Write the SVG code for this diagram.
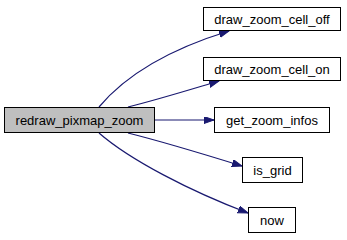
<svg xmlns="http://www.w3.org/2000/svg" width="347" height="240" viewBox="0 0 347 240">
  <style>
    .node rect { fill: #ffffff; stroke: #000000; stroke-width: 1; }
    .node.root rect { fill: #bfbfbf; }
    .node text { font-family: "Liberation Sans", Arial, sans-serif; font-size: 13px; fill: #000000; text-anchor: middle; }
    .edge { fill: none; stroke: #191970; stroke-width: 1.2; marker-end: url(#arrow); }
  </style>
  <defs>
    <marker id="arrow" markerUnits="userSpaceOnUse" markerWidth="11" markerHeight="8" refX="10" refY="3.5" orient="auto">
      <path d="M0,0 L10,3.5 L0,7 Z" fill="#191970" stroke="#191970" stroke-width="1"/>
    </marker>
  </defs>

  <!-- call edges -->
  <g id="edges">
    <path class="edge" d="M99,107 C130,70 180,46 229,31"/>
    <path class="edge" d="M128,107 C160,99 192,89 219,81"/>
    <path class="edge" d="M155,120 L214,120"/>
    <path class="edge" d="M128,133 C160,141 200,153 242,166"/>
    <path class="edge" d="M99,133 C130,160 190,191 248,213"/>
  </g>

  <g id="node_redraw_pixmap_zoom" class="node root">
    <rect x="4.5" y="107.5" width="150" height="25"/>
    <text x="79.5" y="124.5">redraw_pixmap_zoom</text>
  </g>
  <g id="node_draw_zoom_cell_off" class="node">
    <rect x="203.5" y="7.5" width="137" height="23"/>
    <text x="272" y="23.5">draw_zoom_cell_off</text>
  </g>
  <g id="node_draw_zoom_cell_on" class="node">
    <rect x="203.5" y="57.5" width="137" height="23"/>
    <text x="272" y="73.5">draw_zoom_cell_on</text>
  </g>
  <g id="node_get_zoom_infos" class="node">
    <rect x="214.5" y="107.5" width="115" height="25"/>
    <text x="272" y="124.5">get_zoom_infos</text>
  </g>
  <g id="node_is_grid" class="node">
    <rect x="242.5" y="157.5" width="60" height="25"/>
    <text x="272.5" y="174.5">is_grid</text>
  </g>
  <g id="node_now" class="node">
    <rect x="248.5" y="207.5" width="47" height="25"/>
    <text x="272" y="224.5">now</text>
  </g>
</svg>
